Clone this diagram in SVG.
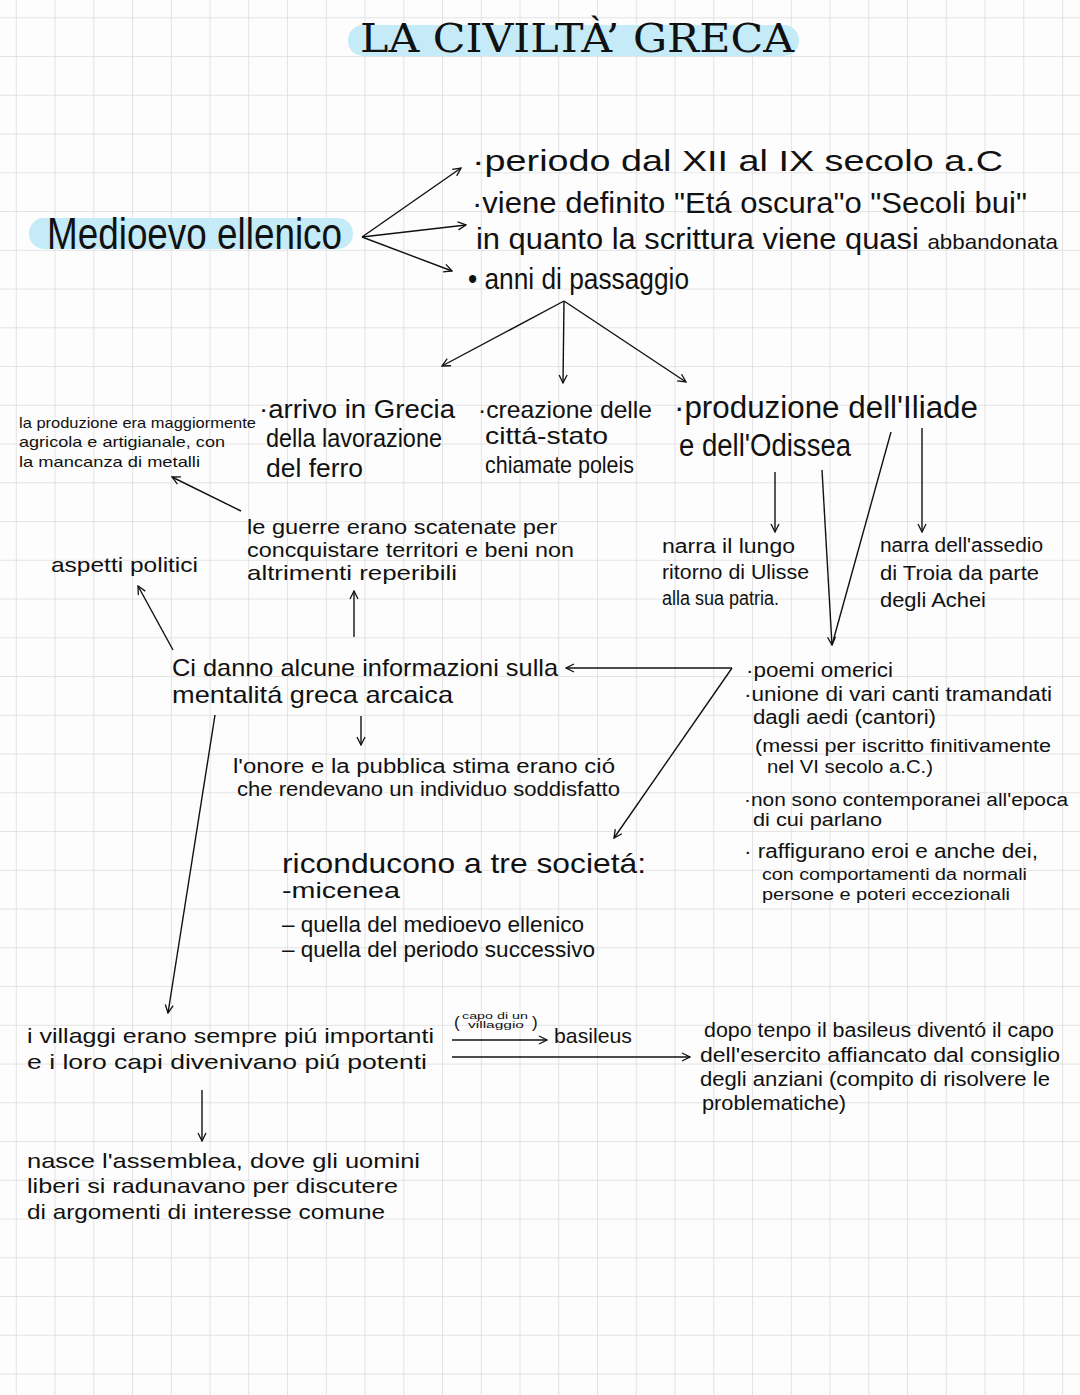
<svg xmlns="http://www.w3.org/2000/svg" width="1080" height="1395" viewBox="0 0 1080 1395">
<defs>
<pattern id="grid" x="15.8" y="17.3" width="38.75" height="38.75" patternUnits="userSpaceOnUse">
<path d="M0,0 H38.75 M0,0 V38.75" fill="none" stroke="#dcdcdc" stroke-width="1.6"/>
</pattern>
<marker id="ah" viewBox="0 0 10 10" refX="9" refY="5" markerWidth="10" markerHeight="10" markerUnits="userSpaceOnUse" orient="auto">
<path d="M1,1 L9,5 L1,9" fill="none" stroke="#111" stroke-width="1.3"/>
</marker>
<style>
.t{font-family:"Liberation Sans","DejaVu Sans",sans-serif;fill:#111;}
.c path{fill:none;stroke:#111;stroke-width:1.4;}
.hl{fill:#c4ebf7;}
</style>
</defs>
<rect width="1080" height="1395" fill="#fdfdfd"/>
<rect width="1080" height="1395" fill="url(#grid)"/>

<g id="title">
<rect class="hl" x="348" y="25" width="451" height="31" rx="15"/>
<text x="360" y="52" font-family="'DejaVu Serif','Liberation Serif',serif" font-size="40" fill="#111" textLength="434" lengthAdjust="spacingAndGlyphs">LA CIVILTÀ’ GRECA</text>
</g>

<g id="medioevo">
<rect class="hl" x="29" y="218" width="324" height="31" rx="15"/>
<text class="t" x="47" y="249" font-size="44" textLength="295" lengthAdjust="spacingAndGlyphs">Medioevo ellenico</text>
</g>

<g id="caratteristiche" class="t" font-size="29">
<text x="472" y="171" textLength="531" lengthAdjust="spacingAndGlyphs">·periodo   dal   XII  al  IX  secolo  a.C</text>
<text x="472" y="213" textLength="555" lengthAdjust="spacingAndGlyphs">·viene definito "Etá oscura"o "Secoli bui"</text>
<text x="476" y="249" textLength="582" lengthAdjust="spacingAndGlyphs">in quanto la scrittura viene quasi <tspan font-size="21">abbandonata</tspan></text>
<text x="468" y="289" textLength="221" lengthAdjust="spacingAndGlyphs">• anni di passaggio</text>
</g>

<g id="produzione-note" class="t" font-size="15">
<text x="19" y="428" textLength="237" lengthAdjust="spacingAndGlyphs">la produzione era maggiormente</text>
<text x="19" y="447" textLength="206" lengthAdjust="spacingAndGlyphs">agricola e artigianale, con</text>
<text x="19" y="467" textLength="181" lengthAdjust="spacingAndGlyphs">la mancanza di metalli</text>
</g>

<g id="arrivo" class="t" font-size="25">
<text x="259" y="418" textLength="196" lengthAdjust="spacingAndGlyphs">·arrivo in Grecia</text>
<text x="266" y="447" textLength="176" lengthAdjust="spacingAndGlyphs">della lavorazione</text>
<text x="266" y="477" textLength="97" lengthAdjust="spacingAndGlyphs">del ferro</text>
</g>

<g id="creazione" class="t" font-size="24">
<text x="478" y="418" textLength="174" lengthAdjust="spacingAndGlyphs">·creazione delle</text>
<text x="485" y="444" textLength="123" lengthAdjust="spacingAndGlyphs">cittá-stato</text>
<text x="485" y="473" textLength="149" lengthAdjust="spacingAndGlyphs">chiamate poleis</text>
</g>

<g id="produzione" class="t" font-size="31">
<text x="674" y="418" textLength="304" lengthAdjust="spacingAndGlyphs">·produzione  dell'Iliade</text>
<text x="679" y="456" textLength="172" lengthAdjust="spacingAndGlyphs">e dell'Odissea</text>
</g>

<g id="odissea" class="t" font-size="20">
<text x="662" y="553" textLength="133" lengthAdjust="spacingAndGlyphs">narra il lungo</text>
<text x="662" y="579" textLength="147" lengthAdjust="spacingAndGlyphs">ritorno di Ulisse</text>
<text x="662" y="605" textLength="117" lengthAdjust="spacingAndGlyphs">alla sua patria.</text>
</g>

<g id="iliade" class="t" font-size="20">
<text x="880" y="552" textLength="163" lengthAdjust="spacingAndGlyphs">narra dell'assedio</text>
<text x="880" y="580" textLength="159" lengthAdjust="spacingAndGlyphs">di Troia da parte</text>
<text x="880" y="607" textLength="106" lengthAdjust="spacingAndGlyphs">degli Achei</text>
</g>

<g id="guerre" class="t" font-size="21">
<text x="247" y="534" textLength="310" lengthAdjust="spacingAndGlyphs">le guerre erano scatenate per</text>
<text x="247" y="557" textLength="327" lengthAdjust="spacingAndGlyphs">concquistare territori e beni non</text>
<text x="247" y="580" textLength="210" lengthAdjust="spacingAndGlyphs">altrimenti reperibili</text>
</g>

<g id="aspetti" class="t" font-size="21">
<text x="51" y="572" textLength="147" lengthAdjust="spacingAndGlyphs">aspetti politici</text>
</g>

<g id="informazioni" class="t" font-size="24">
<text x="172" y="676" textLength="386" lengthAdjust="spacingAndGlyphs">Ci danno alcune informazioni sulla</text>
<text x="172" y="703" textLength="281" lengthAdjust="spacingAndGlyphs">mentalitá greca arcaica</text>
</g>

<g id="onore" class="t" font-size="20">
<text x="233" y="773" textLength="382" lengthAdjust="spacingAndGlyphs">l'onore  e la pubblica stima erano ció</text>
<text x="237" y="796" textLength="383" lengthAdjust="spacingAndGlyphs">che rendevano un individuo soddisfatto</text>
</g>

<g id="poemi" class="t" font-size="20">
<text x="746" y="677" textLength="147" lengthAdjust="spacingAndGlyphs">·poemi omerici</text>
<text x="744" y="701" textLength="308" lengthAdjust="spacingAndGlyphs">·unione di vari canti tramandati</text>
<text x="753" y="724" textLength="183" lengthAdjust="spacingAndGlyphs">dagli aedi (cantori)</text>
<text x="755" y="752" font-size="18" textLength="296" lengthAdjust="spacingAndGlyphs">(messi per iscritto finitivamente</text>
<text x="767" y="773" font-size="18" textLength="166" lengthAdjust="spacingAndGlyphs">nel VI secolo a.C.)</text>
<text x="744" y="806" font-size="18" textLength="324" lengthAdjust="spacingAndGlyphs">·non sono contemporanei all'epoca</text>
<text x="753" y="826" font-size="18" textLength="129" lengthAdjust="spacingAndGlyphs">di cui parlano</text>
<text x="744" y="858" textLength="294" lengthAdjust="spacingAndGlyphs">· raffigurano eroi e anche dei,</text>
<text x="762" y="880" font-size="16" textLength="265" lengthAdjust="spacingAndGlyphs">con comportamenti da normali</text>
<text x="762" y="900" font-size="16" textLength="248" lengthAdjust="spacingAndGlyphs">persone e poteri eccezionali</text>
</g>

<g id="societa" class="t" font-size="28">
<text x="282" y="873" textLength="364" lengthAdjust="spacingAndGlyphs">riconducono  a  tre  societá:</text>
<text x="282" y="898" font-size="22" textLength="118" lengthAdjust="spacingAndGlyphs">-micenea</text>
<text x="282" y="932" font-size="22" textLength="302" lengthAdjust="spacingAndGlyphs">– quella del medioevo ellenico</text>
<text x="282" y="957" font-size="22" textLength="313" lengthAdjust="spacingAndGlyphs">– quella del periodo successivo</text>
</g>

<g id="villaggi" class="t" font-size="21">
<text x="27" y="1043" textLength="407" lengthAdjust="spacingAndGlyphs">i villaggi erano sempre piú importanti</text>
<text x="27" y="1069" textLength="400" lengthAdjust="spacingAndGlyphs">e i loro capi divenivano piú potenti</text>
</g>

<g id="capo-label" class="t">
<text x="454" y="1028" font-size="17">(</text>
<text x="462" y="1019" font-size="9" textLength="66" lengthAdjust="spacingAndGlyphs">capo di un</text>
<text x="468" y="1028" font-size="9" textLength="56" lengthAdjust="spacingAndGlyphs">villaggio</text>
<text x="532" y="1028" font-size="17">)</text>
</g>

<g id="basileus" class="t" font-size="21">
<text x="554" y="1043" textLength="78" lengthAdjust="spacingAndGlyphs">basileus</text>
</g>

<g id="dopo" class="t" font-size="20">
<text x="704" y="1037" textLength="350" lengthAdjust="spacingAndGlyphs">dopo tenpo il basileus diventó il capo</text>
<text x="700" y="1062" textLength="360" lengthAdjust="spacingAndGlyphs">dell'esercito affiancato dal consiglio</text>
<text x="700" y="1086" textLength="350" lengthAdjust="spacingAndGlyphs">degli anziani (compito di risolvere le</text>
<text x="702" y="1110" textLength="144" lengthAdjust="spacingAndGlyphs">problematiche)</text>
</g>

<g id="assemblea" class="t" font-size="21">
<text x="27" y="1168" textLength="393" lengthAdjust="spacingAndGlyphs">nasce l'assemblea, dove gli uomini</text>
<text x="27" y="1193" textLength="371" lengthAdjust="spacingAndGlyphs">liberi si radunavano per discutere</text>
<text x="27" y="1219" textLength="358" lengthAdjust="spacingAndGlyphs">di argomenti di interesse comune</text>
</g>

<g id="connectors" class="c">
<path d="M362,237 L461,168" marker-end="url(#ah)"/>
<path d="M362,237 L466,225" marker-end="url(#ah)"/>
<path d="M362,237 L452,271" marker-end="url(#ah)"/>
<path d="M564,301 L442,366" marker-end="url(#ah)"/>
<path d="M564,301 L563,383" marker-end="url(#ah)"/>
<path d="M564,301 L686,382" marker-end="url(#ah)"/>
<path d="M241,511 L172,477" marker-end="url(#ah)"/>
<path d="M173,650 L138,586" marker-end="url(#ah)"/>
<path d="M354,637 L354,591" marker-end="url(#ah)"/>
<path d="M361,716 L361,745" marker-end="url(#ah)"/>
<path d="M215,715 L168,1013" marker-end="url(#ah)"/>
<path d="M732,668 L566,668" marker-end="url(#ah)"/>
<path d="M732,668 L614,838" marker-end="url(#ah)"/>
<path d="M775,472 L775,532" marker-end="url(#ah)"/>
<path d="M822,470 L832,645" marker-end="url(#ah)"/>
<path d="M891,432 L832,645"/>
<path d="M922,428 L922,532" marker-end="url(#ah)"/>
<path d="M452,1040 L547,1040" marker-end="url(#ah)"/>
<path d="M452,1057 L690,1057" marker-end="url(#ah)"/>
<path d="M202,1090 L202,1141" marker-end="url(#ah)"/>
</g>
</svg>
